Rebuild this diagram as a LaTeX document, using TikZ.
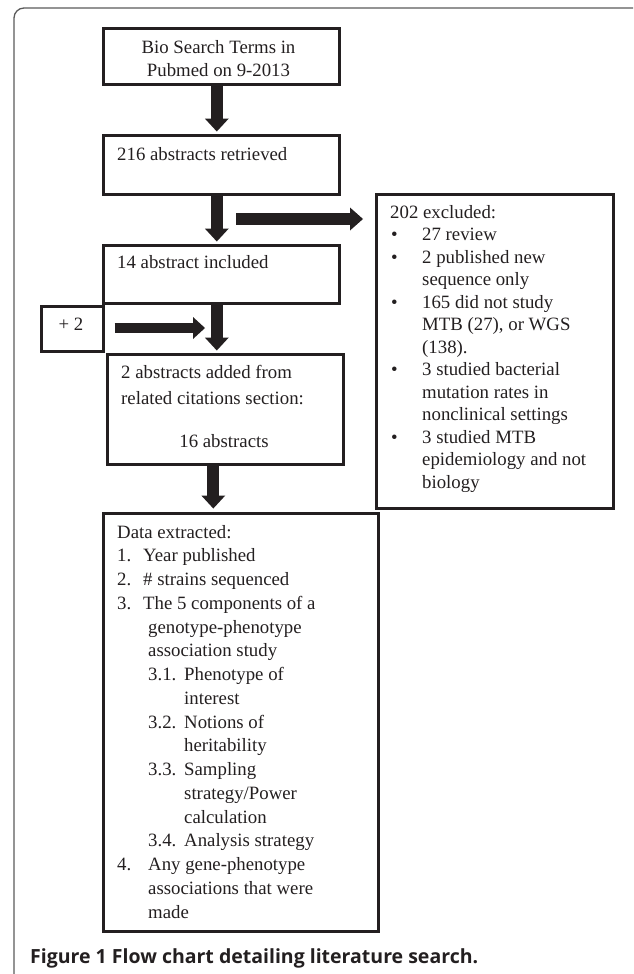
\documentclass[tikz,border=0pt]{standalone}
\usepackage{fontspec}
\setmainfont{Liberation Serif}
\newfontfamily\capfont{Open Sans}
\usetikzlibrary{arrows.meta}
\definecolor{ink}{HTML}{231F20}
\definecolor{frm}{HTML}{5A5A5A}
\newcommand\bul{\kern1pt\makebox[31pt][l]{•}}
\begin{document}
\begin{tikzpicture}[x=1pt,y=-1pt,
  box/.style={draw=ink, line width=2.6pt, inner sep=0pt, anchor=north west},
  txt/.style={inner sep=0pt, anchor=base west, text=ink, font=\fontsize{18.8}{22.5}\selectfont},
  ctxt/.style={txt, anchor=base},
  fat/.style={draw=ink, line width=12pt, line cap=butt, -{Triangle[width=24pt,length=13pt,line width=0pt]}, shorten >=2.5pt},
  fatsmall/.style={draw=ink, line width=10pt, line cap=butt, -{Triangle[width=22pt,length=12pt,line width=0pt]}}]
\useasboundingbox (0,0) rectangle (633,974);
\begin{scope}
  \clip (0,0) rectangle (633,974);
  \draw[frm, line width=1.3pt, rounded corners=10pt] (14,8) rectangle (700,986);
\end{scope}
% boxes
\node[box, minimum width=236pt, minimum height=56pt] (b1) at (102,27) {};
\node[box, minimum width=236pt, minimum height=59pt] (b2) at (102,134) {};
\node[box, minimum width=236pt, minimum height=58pt] (b3) at (102,244) {};
\node[box, minimum width=62pt, minimum height=45pt] (plus) at (40,305) {};
\node[box, minimum width=236pt, minimum height=110pt] (b4) at (106,353) {};
\node[box, minimum width=275pt, minimum height=418pt] (b5) at (102,512) {};
\node[box, minimum width=237pt, minimum height=314pt] (ex) at (375,193) {};
% texts
\node[ctxt] (t1a) at (218.5,53) {Bio Search Terms in};
\node[ctxt] (t1b) at (218.5,76) {Pubmed on 9-2013};
\node[txt] (t2) at (117,160) {216 abstracts retrieved};
\node[txt] (t3) at (117,268) {14 abstract included};
\node[ctxt] (tp) at (71,330) {+ 2};
\node[txt] (t4a) at (121,378) {2 abstracts added from};
\node[txt] (t4b) at (121,404) {related citations section:};
\node[ctxt] (t4c) at (224,447) {16 abstracts};
\node[txt] (tex) at (390,218) {\vtop{\baselineskip=22.5pt
  \hbox{202 excluded:}
  \hbox{\bul 27 review}
  \hbox{\bul 2 published new}
  \hbox{\kern32pt sequence only}
  \hbox{\bul 165 did not study}
  \hbox{\kern32pt MTB (27), or WGS}
  \hbox{\kern32pt (138).}
  \hbox{\bul 3 studied bacterial}
  \hbox{\kern32pt mutation rates in}
  \hbox{\kern32pt nonclinical settings}
  \hbox{\bul 3 studied MTB}
  \hbox{\kern32pt epidemiology and not}
  \hbox{\kern32pt biology}}};
\node[txt] (t5) at (117,538) {\vtop{\baselineskip=23.75pt
  \hbox{Data extracted:}
  \hbox{\makebox[26pt][l]{1.}Year published}
  \hbox{\makebox[26pt][l]{2.}\# strains sequenced}
  \hbox{\makebox[26pt][l]{3.}The 5 components of a}
  \hbox{\kern31pt genotype-phenotype}
  \hbox{\kern31pt association study}
  \hbox{\kern31pt\makebox[36pt][l]{3.1.}Phenotype of}
  \hbox{\kern67pt interest}
  \hbox{\kern31pt\makebox[36pt][l]{3.2.}Notions of}
  \hbox{\kern67pt heritability}
  \hbox{\kern31pt\makebox[36pt][l]{3.3.}Sampling}
  \hbox{\kern67pt strategy/Power}
  \hbox{\kern67pt calculation}
  \hbox{\kern31pt\makebox[36pt][l]{3.4.}Analysis strategy}
  \hbox{\makebox[31pt][l]{4.}Any gene-phenotype}
  \hbox{\kern31pt associations that were}
  \hbox{\kern31pt made}}};
% caption
\node[inner sep=0pt, anchor=base west, text=ink, font=\capfont\bfseries\fontsize{19.5}{22}\selectfont] (cap) at (30,963) {Figure 1 Flow chart detailing literature search.};
% arrows
\coordinate (a1s) at ([xshift=-4.5pt]b1.south);
\coordinate (a2s) at ([xshift=-4.5pt]b2.south);
\coordinate (a3s) at ([xshift=-4.5pt]b3.south);
\coordinate (a4s) at ([xshift=-12pt]b4.south);
\draw[fat] (a1s) -- (a1s |- b2.north);
\draw[fat] (a2s) -- (a2s |- b3.north);
\draw[fat] (a3s) -- (a3s |- b4.north);
\draw[fat, shorten >=3.5pt] (a4s) -- (a4s |- b5.north);
\coordinate (h1s) at (236,219);
\draw[fat, line width=12pt, -{Triangle[width=23pt,length=13pt,line width=0pt]}, shorten >=12pt] (h1s) -- (h1s -| ex.west);
\coordinate (h2e) at (205,328);
\draw[fatsmall, shorten <=10pt] (plus.east |- h2e) -- (h2e);
\end{tikzpicture}
\end{document}
